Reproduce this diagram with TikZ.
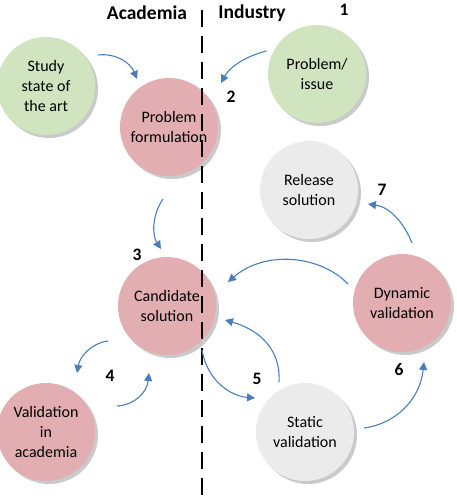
\documentclass[tikz,border=0pt]{standalone}
\usepackage{fontspec}
\setmainfont{Carlito}
\usetikzlibrary{shadows,arrows.meta}
\definecolor{cgreen}{HTML}{D0E4C0}
\definecolor{cpink}{HTML}{E2AEB1}
\definecolor{cgray}{HTML}{EBEBEB}
\definecolor{cblue}{HTML}{4A7EBB}
\tikzset{
  stage/.style={circle, minimum size=98pt, inner sep=0pt, align=center,
    font=\fontsize{16}{20}\selectfont,
    drop shadow={shadow xshift=3pt, shadow yshift=-3pt, opacity=0.35, fill=black!60}},
  gstage/.style={stage, fill=cgreen},
  pstage/.style={stage, fill=cpink},
  wstage/.style={stage, fill=cgray},
  flow/.style={draw=cblue, line width=1.1pt, -{Triangle[length=8pt,width=8pt]}},
  num/.style={font=\bfseries\fontsize{17.5}{17.5}\selectfont},
  head/.style={font=\bfseries\fontsize{19.5}{19.5}\selectfont}
}
\begin{document}
\begin{tikzpicture}[x=1pt,y=-1pt]
\useasboundingbox (0,0) rectangle (457,503);
% circles
\node[gstage] (study) at (46,86) {Study\\state of\\the art};
\node[pstage] (form) at (169,127) {Problem\\formulation};
\node[gstage] (issue) at (317,74) {Problem/\\issue};
\node[wstage] (release) at (309,190) {Release\\solution};
\node[pstage] (cand) at (167,306) {Candidate\\solution};
\node[pstage] (dyn) at (402,303) {Dynamic\\validation};
\node[pstage] (vacad) at (46,432) {Validation\\in\\academia};
\node[wstage] (static) at (305,432) {Static\\validation};
% divider
\coordinate (dtop) at (202,10);
\coordinate (dbot) at (202,503);
\draw[line width=1.8pt, dash pattern=on 17pt off 9pt] (dtop) -- (dbot);
% titles
\node[head] (acad) at (147,13) {Academia};
\node[head] (ind) at (252,13) {Industry};
% numbers
\node[num] (n1) at (344,10) {1};
\node[num] (n2) at (231,97) {2};
\node[num] (n7) at (382,190) {7};
\node[num] (n3) at (137,255) {3};
\node[num] (n4) at (110,376) {4};
\node[num] (n5) at (257,379) {5};
\node[num] (n6) at (399,370) {6};
% arrows
\coordinate (a1s) at (98,55);
\draw[flow] (a1s) .. controls (115,53) and (130,62) .. (137,79);
\draw[flow] ([xshift=-7pt]issue.152) .. controls (240,58) and (228,70) .. (221,83);
\draw[flow] (163,199) .. controls (152,215) and (152,235) .. (161,249);
\draw[flow] (412,243) .. controls (404,223) and (390,207) .. (368,204);
\draw[flow] (348,284) .. controls (320,255) and (265,250) .. (228,282);
\draw[flow] (279,382) .. controls (281,350) and (260,330) .. (225,320);
\draw[flow] (202,350) .. controls (207,380) and (230,396) .. (255,398);
\draw[flow] (108,341) .. controls (92,343) and (80,356) .. (77,373);
\draw[flow] (117,406) .. controls (135,405) and (147,392) .. (149,373);
\draw[flow] (364,428) .. controls (395,424) and (420,400) .. (424,362);
\end{tikzpicture}
\end{document}
